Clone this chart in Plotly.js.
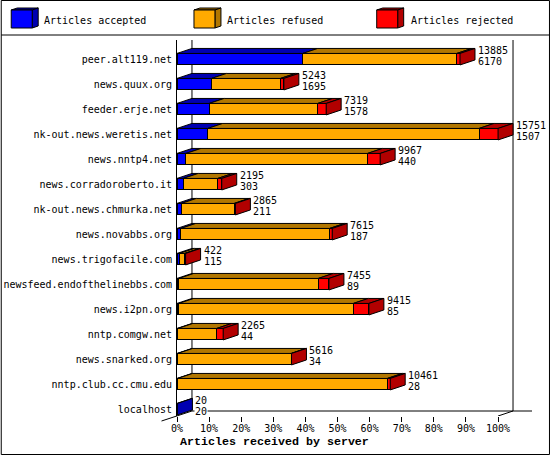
<!DOCTYPE html>
<html>
<head>
<meta charset="utf-8">
<script src="https://cdn.plot.ly/plotly-3.0.1.min.js"></script>
<style>html,body{margin:0;padding:0;background:#fff}#chart{width:550px;height:455px}</style>
</head>
<body>
<div id="chart"></div>
<script>
var servers = ["peer.alt119.net","news.quux.org","feeder.erje.net","nk-out.news.weretis.net","news.nntp4.net","news.corradoroberto.it","nk-out.news.chmurka.net","news.novabbs.org","news.trigofacile.com","newsfeed.endofthelinebbs.com","news.i2pn.org","nntp.comgw.net","news.snarked.org","nntp.club.cc.cmu.edu","localhost"];
var received = [13885,5243,7319,15751,9967,2195,2865,7615,422,7455,9415,2265,5616,10461,20];
var accepted = [6170,1695,1578,1507,440,303,211,187,115,89,85,44,34,28,20];
var rejected = [158,170,417,930,622,196,60,130,50,525,765,320,12,142,0];
var seriesNames = ["Articles accepted","Articles refused","Articles rejected"];
var frontColors = ["#0000FF","#FFAA00","#FF0000"];
var shadeColors = ["#0000B2","#B27700","#B20000"];
var percentTicks = [0,10,20,30,40,50,60,70,80,90,100];

var W = 550, H = 455;
var plotL = 176.5, plotR = 532, plotT = 40, plotB = 416;
var pxPerPct = 3.215, pxPerRow = 25, firstRowPx = 59.2;
var depthX = 15 / pxPerPct, depthY = 5 / pxPerRow;
var barH = 0.46;
var xMax = (plotR - plotL) / pxPerPct;
var yTop = (plotT - firstRowPx) / pxPerRow, yBottom = (plotB - firstRowPx) / pxPerRow;
var maxTotal = Math.max.apply(null, received);
function pct(v){ return v / maxTotal * 100; }
function px(x){ return (x - plotL) / (plotR - plotL); }
function py(y){ return 1 - (y - plotT) / (plotB - plotT); }

var refused = received.map(function(t,i){ return t - accepted[i] - rejected[i]; });
var stacks = [accepted, refused, rejected];
var idx = servers.map(function(_,i){ return i; });

var traces = [];
stacks.forEach(function(arr,k){
  traces.push({type:"bar",orientation:"h",name:seriesNames[k],y:idx,x:arr.map(pct),width:barH,
    marker:{color:frontColors[k],line:{color:"#000",width:1}},hoverinfo:"name+x",showlegend:false});
});

var tops = [[[],[]],[[],[]],[[],[]]], sides = [[[],[]],[[],[]],[[],[]]];
function add(store,xs,ys){ store[0].push.apply(store[0],xs.concat([null])); store[1].push.apply(store[1],ys.concat([null])); }
idx.forEach(function(i){
  var yt = i - barH/2, yb = i + barH/2, cum = 0, last = 0;
  stacks.forEach(function(arr,k){
    var w = pct(arr[i]);
    if (arr[i] > 0) {
      add(tops[k],[cum,cum+w,cum+w+depthX,cum+depthX,cum],[yt,yt,yt-depthY,yt-depthY,yt]);
      last = k;
    }
    cum += w;
  });
  add(sides[last],[cum,cum+depthX,cum+depthX,cum,cum],[yt,yt-depthY,yb-depthY,yb,yt]);
});
function poly(store,color){
  return {type:"scatter",mode:"lines",x:store[0],y:store[1],fill:"toself",fillcolor:color,
    line:{color:"#000",width:1},hoverinfo:"skip",showlegend:false,cliponaxis:false,connectgaps:false};
}
[0,1,2].forEach(function(k){ traces.push(poly(tops[k],shadeColors[k])); traces.push(poly(sides[k],shadeColors[k])); });

var floorY = yBottom - depthY;
var tiny = {family:"'DejaVu Sans Mono', monospace",size:10,color:"#000"};
var shapes = [
  {type:"line",xref:"x",yref:"y",x0:depthX,x1:depthX,y0:yTop,y1:floorY,line:{color:"#000",width:1},layer:"below"},
  {type:"line",xref:"x",yref:"y",x0:100+depthX,x1:100+depthX,y0:yTop,y1:floorY,line:{color:"#000",width:1},layer:"below"},
  {type:"line",xref:"x",yref:"y",x0:depthX,x1:xMax,y0:floorY,y1:floorY,line:{color:"#000",width:1},layer:"below"},
  {type:"line",xref:"x",yref:"y",x0:100,x1:100+depthX,y0:yBottom,y1:floorY,line:{color:"#000",width:1},layer:"below"},
  {type:"line",xref:"paper",yref:"paper",x0:px(161),x1:px(191.5),y0:py(421),y1:py(411),line:{color:"#000",width:1},layer:"above"},
  {type:"rect",xref:"paper",yref:"paper",x0:px(0.5),x1:px(W-0.5),y0:py(0.5),y1:py(H-0.5),line:{color:"#000",width:1},fillcolor:"rgba(0,0,0,0)",layer:"below"},
  {type:"line",xref:"paper",yref:"paper",x0:px(0.5),x1:px(W-0.5),y0:py(35),y1:py(35),line:{color:"#000",width:1},layer:"below"}
];
var annotations = [];
var legendBoxX = [10.5,193.5,376.5];
var legendTextX = [42.5,226,410];
seriesNames.forEach(function(n,k){
  var x0 = legendBoxX[k], x1 = x0+21, y0 = 10, y1 = 28, dx = 6, dy = 2;
  function P(pts){ return "M"+pts.map(function(p){ return px(p[0])+","+py(p[1]); }).join("L")+"Z"; }
  shapes.push({type:"path",xref:"paper",yref:"paper",layer:"above",path:P([[x0,y0],[x0+dx,y0-dy],[x1+dx,y0-dy],[x1,y0]]),fillcolor:shadeColors[k],line:{color:"#000",width:1}});
  shapes.push({type:"path",xref:"paper",yref:"paper",layer:"above",path:P([[x1,y0],[x1+dx,y0-dy],[x1+dx,y1-dy],[x1,y1]]),fillcolor:shadeColors[k],line:{color:"#000",width:1}});
  shapes.push({type:"rect",xref:"paper",yref:"paper",layer:"above",x0:px(x0),x1:px(x1),y0:py(y0),y1:py(y1),fillcolor:frontColors[k],line:{color:"#000",width:1}});
  annotations.push({xref:"paper",yref:"paper",x:px(legendTextX[k]),y:py(20),xanchor:"left",yanchor:"middle",text:n,showarrow:false,font:tiny,borderpad:0});
});
idx.forEach(function(i){
  var xEnd = pct(received[i]) + depthX;
  annotations.push({xref:"x",yref:"y",x:xEnd,y:i,xanchor:"left",yanchor:"middle",xshift:2,yshift:9,text:String(received[i]),showarrow:false,font:tiny,borderpad:0});
  annotations.push({xref:"x",yref:"y",x:xEnd,y:i,xanchor:"left",yanchor:"middle",xshift:2,yshift:-2,text:String(accepted[i]),showarrow:false,font:tiny,borderpad:0,bgcolor:"#fff"});
});
annotations.push({xref:"paper",yref:"paper",x:px(274),y:py(442),xanchor:"center",yanchor:"middle",text:"<b>Articles received by server</b>",showarrow:false,font:{family:"'Liberation Mono', monospace",size:11.67,color:"#000"},borderpad:0});

var layout = {
  width:W,height:H,autosize:false,showlegend:false,
  paper_bgcolor:"#fff",plot_bgcolor:"#fff",
  barmode:"stack",
  margin:{l:plotL,r:W-plotR,t:plotT,b:H-plotB,pad:0,autoexpand:false},
  xaxis:{range:[0,xMax],tickmode:"array",tickvals:percentTicks,ticktext:percentTicks.map(function(p){return p+"%";}),ticks:"outside",ticklen:5,tickwidth:1,tickcolor:"#000",showgrid:false,zeroline:false,showline:false,tickfont:tiny,ticklabelstandoff:-2,automargin:false},
  yaxis:{range:[yBottom,yTop],tickmode:"array",tickvals:idx,ticktext:servers,ticks:"",showgrid:false,zeroline:false,showline:true,linecolor:"#000",linewidth:1,tickfont:tiny,ticklabelstandoff:2,automargin:false},
  shapes:shapes,annotations:annotations,font:tiny
};
Plotly.newPlot("chart",traces,layout,{displayModeBar:false,responsive:false});
</script>
</body>
</html>
